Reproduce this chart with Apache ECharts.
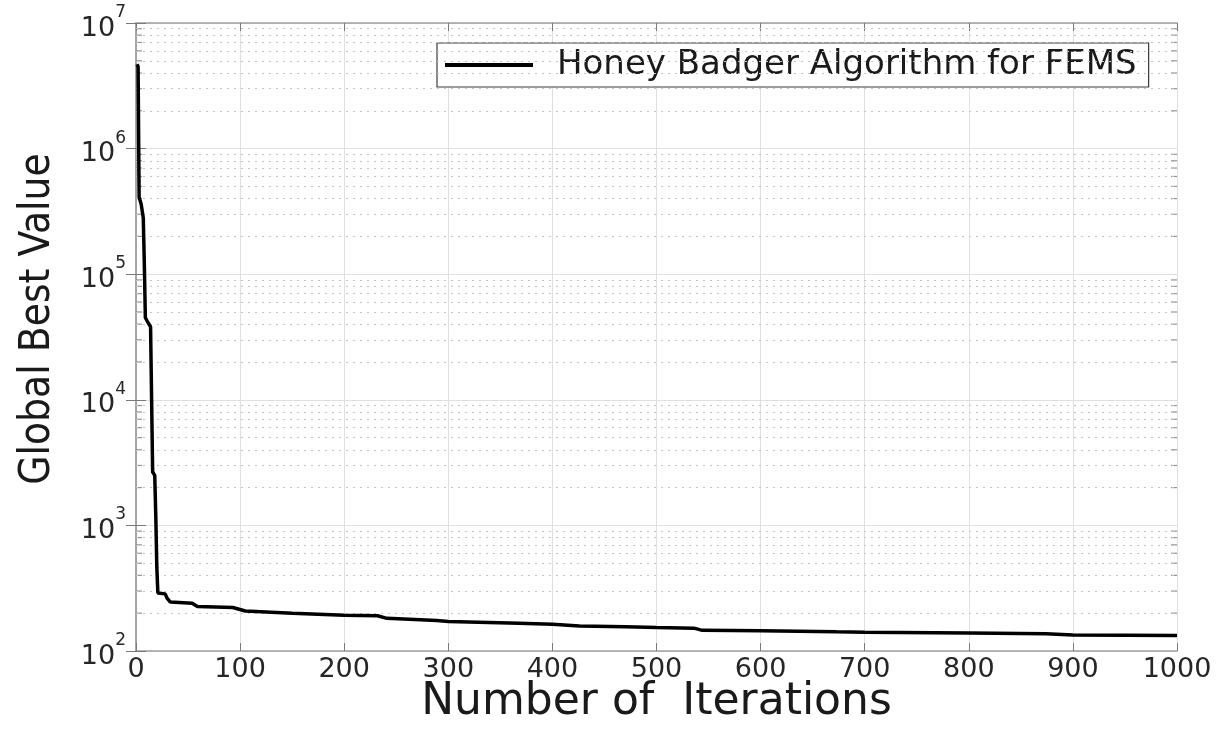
<!DOCTYPE html>
<html>
<head>
<meta charset="utf-8">
<script src="https://cdn.jsdelivr.net/npm/echarts@6/dist/echarts.min.js"></script>
<style>
html,body{margin:0;padding:0;background:#fff;}
#chart{width:1219px;height:738px;}
</style>
</head>
<body>
<div id="chart"></div>
<script>
// ---- data ----
const seriesName = 'Honey Badger Algorithm for FEMS';
const iterations = [1,2,3,5,7,8,9,11,14,15,16,17,18,19,20,21,28,30,33,54,59,93,105,150,200,232,241,289,300,368,400,426,470,500,536,544,600,673,700,800,874,900,1000];
const bestValues = [4.7e6,4.5e6,4.1e5,3.6e5,2.8e5,1.2e5,4.5e4,4.2e4,3.8e4,1.0e4,2660,2600,2500,1200,465,290,285,262,245,240,226,222,208,200,193,191,182,175,172,166,163,158,156,154,152,146,145,142,141,139,137,134,133];
const xTicks = [0,100,200,300,400,500,600,700,800,900,1000];
const yDecades = [2,3,4,5,6,7];
const xTitle = 'Number of  Iterations';
const yTitle = 'Global Best Value';

// minor grid values of the log axis (2..9 x 10^n)
const minorValues = [];
for (let e = yDecades[0]; e < yDecades[yDecades.length - 1]; e++) for (let k = 2; k <= 9; k++) minorValues.push(k * Math.pow(10, e));

const lineData = iterations.map((it, i) => [it, bestValues[i]]);

const axisColor = '#a0a0a0';
const textColor = '#262626';
const FONT = '"DejaVu Sans", "Liberation Sans", sans-serif';

const chart = echarts.init(document.getElementById('chart'), null, {renderer: 'canvas'});
chart.setOption({
  animation: false,
  backgroundColor: '#ffffff',
  grid: {left: 136, right: 42, top: 23, bottom: 87, containLabel: false, outerBoundsMode: 'none'},
  legend: {
    data: [seriesName],
    left: 437, top: 43,
    padding: [5, 12, 5, 8],
    backgroundColor: '#ffffff',
    borderColor: '#3a3a3a', borderWidth: 1.2,
    icon: 'rect', itemWidth: 88, itemHeight: 4,
    textStyle: {fontFamily: FONT, fontSize: 34, color: '#1a1a1a', padding: [0, 0, 0, 19]}
  },
  xAxis: [{
    type: 'value', min: xTicks[0], max: xTicks[xTicks.length - 1], interval: 100,
    name: xTitle, nameLocation: 'middle', nameGap: 30, nameMoveOverlap: false,
    nameTextStyle: {fontFamily: FONT, fontSize: 44, color: '#1a1a1a'},
    axisLine: {show: true, onZero: false, lineStyle: {color: axisColor, width: 1.5}},
    axisTick: {show: true, inside: true, length: 8, lineStyle: {color: '#7a7a7a', width: 1}},
    axisLabel: {fontFamily: FONT, fontSize: 27, color: textColor, margin: 5, formatter: v => String(v)},
    splitLine: {show: true, lineStyle: {color: '#e0e0e0', width: 1}}
  }, {
    type: 'value', position: 'top', min: xTicks[0], max: xTicks[xTicks.length - 1], interval: 100,
    axisLine: {show: true, lineStyle: {color: axisColor, width: 1.5}},
    axisTick: {show: true, inside: true, length: 8, lineStyle: {color: '#7a7a7a', width: 1}},
    axisLabel: {show: false}, splitLine: {show: false}
  }],
  yAxis: [{
    type: 'log', logBase: 10, min: Math.pow(10, yDecades[0]), max: Math.pow(10, yDecades[yDecades.length - 1]), splitNumber: 5,
    name: yTitle, nameLocation: 'middle', nameGap: 77, nameRotate: 90, nameMoveOverlap: false,
    nameTextStyle: {fontFamily: '"DejaVu Sans Condensed", "Liberation Sans Narrow", sans-serif', fontSize: 42, color: '#1a1a1a', padding: [0, 0, 0, 36]},
    axisLine: {show: true, lineStyle: {color: axisColor, width: 1.5}},
    axisTick: {show: true, inside: true, length: 10, lineStyle: {color: '#7a7a7a', width: 1}},
    axisLabel: {
      margin: 10,
      formatter: v => '{b|10}{s|' + Math.round(Math.log10(v)) + '}',
      rich: {
        b: {fontFamily: FONT, fontSize: 27, color: textColor, lineHeight: 38, verticalAlign: 'bottom'},
        s: {fontFamily: FONT, fontSize: 17, color: textColor, lineHeight: 26, verticalAlign: 'top'}
      }
    },
    splitLine: {show: true, lineStyle: {color: '#e0e0e0', width: 1}}
  }, {
    type: 'log', logBase: 10, min: Math.pow(10, yDecades[0]), max: Math.pow(10, yDecades[yDecades.length - 1]), splitNumber: 5, position: 'right',
    axisLine: {show: true, lineStyle: {color: axisColor, width: 1.5}},
    axisTick: {show: true, inside: true, length: 10, lineStyle: {color: '#7a7a7a', width: 1}},
    axisLabel: {show: false}, splitLine: {show: false}
  }],
  series: [{
    name: 'minor-left',
    type: 'scatter', xAxisIndex: 0, yAxisIndex: 0, silent: true, clip: false, z: 1,
    symbol: 'rect', symbolSize: [6, 1.2], symbolOffset: [3, 0],
    itemStyle: {color: '#7a7a7a'},
    data: minorValues.map(v => [xTicks[0], v]),
    markLine: {
      silent: true, symbol: 'none', label: {show: false},
      lineStyle: {type: [2, 5], color: '#c4c4c4', width: 1},
      data: minorValues.map(v => ({yAxis: v}))
    }
  }, {
    name: 'minor-right',
    type: 'scatter', xAxisIndex: 0, yAxisIndex: 0, silent: true, clip: false, z: 1,
    symbol: 'rect', symbolSize: [6, 1.2], symbolOffset: [-3, 0],
    itemStyle: {color: '#7a7a7a'},
    data: minorValues.map(v => [xTicks[xTicks.length - 1], v])
  }, {
    name: seriesName,
    type: 'line', xAxisIndex: 0, yAxisIndex: 0, z: 5,
    showSymbol: false, symbol: 'none',
    lineStyle: {color: '#000000', width: 3.5},
    itemStyle: {color: '#000000'},
    data: lineData
  }]
});
</script>
</body>
</html>
